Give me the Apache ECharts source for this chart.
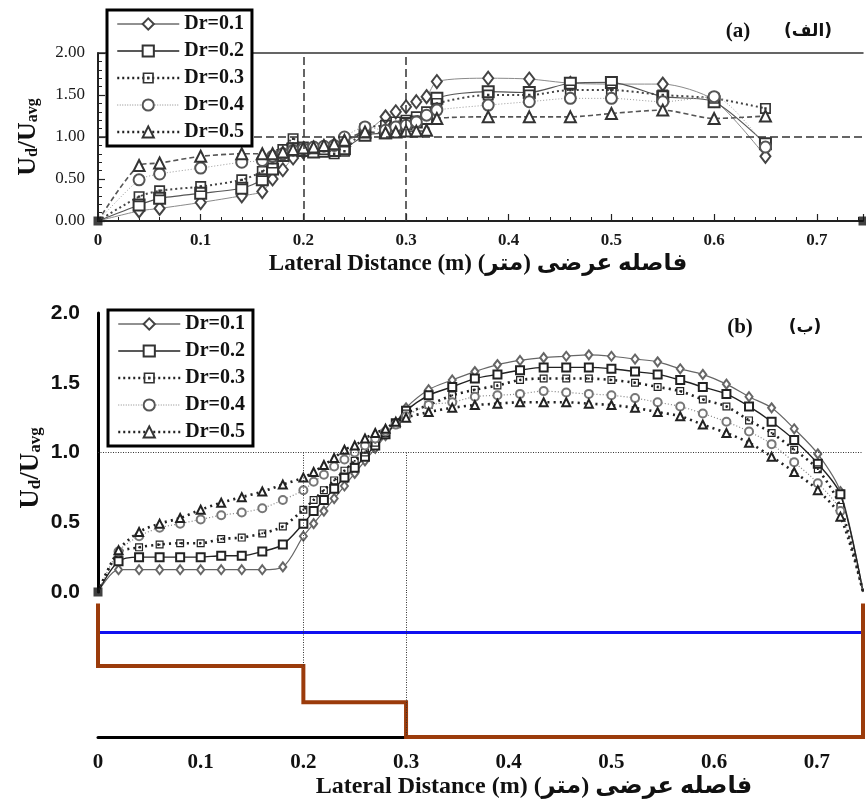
<!DOCTYPE html>
<html>
<head>
<meta charset="utf-8">
<title>Ud/Uavg - lateral distance</title>
<script src="https://cdn.jsdelivr.net/npm/echarts@6/dist/echarts.min.js"></script>
<style>
  html, body { margin: 0; padding: 0; background: #fff; }
  #chart { width: 866px; height: 805px; }
</style>
</head>
<body>
<div id="chart"></div>
<script>
// ---- data ----
var seriesNames = ['Dr=0.1', 'Dr=0.2', 'Dr=0.3', 'Dr=0.4', 'Dr=0.5'];

// panel (a): measured points
var xA = [0, 0.04, 0.06, 0.10, 0.14, 0.16, 0.17, 0.18, 0.19, 0.20, 0.21, 0.22, 0.23, 0.24, 0.26,
          0.28, 0.29, 0.30, 0.31, 0.32, 0.33, 0.38, 0.42, 0.46, 0.50, 0.55, 0.60, 0.65];
var a01 = [0, 0.12, 0.15, 0.22, 0.30, 0.35, 0.50, 0.61, 0.75, 0.82, 0.85, 0.86, 0.89, 0.95, 1.05,
           1.24, 1.30, 1.36, 1.42, 1.48, 1.66, 1.70, 1.69, 1.64, 1.63, 1.63, 1.44, 0.77];
var a02 = [0, 0.19, 0.27, 0.33, 0.39, 0.49, 0.62, 0.78, 0.86, 0.84, 0.82, 0.83, 0.84, 0.86, 1.02,
           1.05, 1.10, 1.16, 1.18, 1.22, 1.46, 1.54, 1.53, 1.64, 1.65, 1.48, 1.42, 0.92];
var a03 = [0, 0.29, 0.36, 0.41, 0.49, 0.59, 0.69, 0.85, 0.98, 0.88, 0.86, 0.85, 0.80, 0.83, 1.10,
           1.14, 1.18, 1.20, 1.24, 1.30, 1.40, 1.50, 1.50, 1.56, 1.56, 1.50, 1.46, 1.34];
var a04 = [0, 0.49, 0.56, 0.63, 0.70, 0.72, 0.77, 0.80, 0.84, 0.86, 0.88, 0.89, 0.90, 1.00, 1.12,
           1.08, 1.12, 1.14, 1.18, 1.26, 1.32, 1.38, 1.42, 1.46, 1.46, 1.42, 1.48, 0.88];
var a05 = [0, 0.66, 0.69, 0.77, 0.80, 0.80, 0.80, 0.82, 0.85, 0.87, 0.88, 0.90, 0.92, 0.96, 1.06,
           1.05, 1.06, 1.07, 1.07, 1.08, 1.22, 1.24, 1.24, 1.24, 1.28, 1.32, 1.22, 1.25];
// wall points of panel (a)
var wallX = [0, 0.745];
var wallY = [0, 0];

// panel (b): model
var xB = [0, 0.02, 0.04, 0.06, 0.08, 0.10, 0.12, 0.14, 0.16, 0.18, 0.20, 0.21, 0.22, 0.23, 0.24,
          0.25, 0.26, 0.27, 0.28, 0.29, 0.30, 0.322, 0.345, 0.367, 0.389, 0.411, 0.434, 0.456,
          0.478, 0.500, 0.523, 0.545, 0.567, 0.589, 0.612, 0.634, 0.656, 0.678, 0.701, 0.723, 0.745];
var b01 = [0, 0.16, 0.16, 0.16, 0.16, 0.16, 0.16, 0.16, 0.16, 0.18, 0.40, 0.49, 0.58, 0.67, 0.76,
           0.85, 0.94, 1.03, 1.12, 1.21, 1.32, 1.45, 1.52, 1.58, 1.63, 1.66, 1.68, 1.69, 1.70, 1.69,
           1.67, 1.65, 1.60, 1.56, 1.49, 1.40, 1.32, 1.17, 0.99, 0.72, 0];
var b02 = [0, 0.22, 0.25, 0.25, 0.25, 0.25, 0.26, 0.26, 0.29, 0.34, 0.49, 0.58, 0.66, 0.74, 0.82,
           0.89, 0.97, 1.05, 1.13, 1.21, 1.30, 1.41, 1.47, 1.53, 1.56, 1.59, 1.61, 1.61, 1.61, 1.60,
           1.58, 1.56, 1.52, 1.47, 1.42, 1.33, 1.22, 1.09, 0.92, 0.70, 0];
var b03 = [0, 0.28, 0.32, 0.34, 0.35, 0.35, 0.38, 0.39, 0.42, 0.47, 0.59, 0.66, 0.73, 0.80, 0.87,
           0.94, 1.00, 1.07, 1.14, 1.21, 1.28, 1.34, 1.41, 1.45, 1.48, 1.52, 1.53, 1.53, 1.53, 1.52,
           1.50, 1.47, 1.44, 1.38, 1.33, 1.23, 1.14, 1.02, 0.88, 0.61, 0];
var b04 = [0, 0.29, 0.40, 0.46, 0.49, 0.52, 0.55, 0.57, 0.60, 0.66, 0.73, 0.79, 0.84, 0.90, 0.95,
           1.00, 1.05, 1.10, 1.15, 1.20, 1.26, 1.34, 1.36, 1.40, 1.41, 1.42, 1.44, 1.43, 1.42, 1.41,
           1.39, 1.36, 1.33, 1.28, 1.22, 1.15, 1.06, 0.93, 0.78, 0.58, 0];
var b05 = [0, 0.30, 0.43, 0.49, 0.53, 0.59, 0.64, 0.68, 0.72, 0.77, 0.82, 0.86, 0.91, 0.96, 1.02,
           1.05, 1.10, 1.14, 1.17, 1.22, 1.25, 1.29, 1.32, 1.34, 1.35, 1.36, 1.36, 1.36, 1.35, 1.34,
           1.32, 1.29, 1.26, 1.20, 1.14, 1.07, 0.97, 0.86, 0.73, 0.54, 0];

// channel cross-section under panel (b) (relative elevation)
var sectionX = [0, 0, 0.2, 0.2, 0.3, 0.3, 0.745, 0.745];
var sectionZ = [0.92, 0.49, 0.49, 0.24, 0.24, 0, 0, 0.92];
var waterX = [0, 0.745];
var waterZ = [0.72, 0.72];

var dataA = [a01, a02, a03, a04, a05];
var dataB = [b01, b02, b03, b04, b05];

// ---- styles ----
var serif = '"Liberation Serif", "DejaVu Serif", serif';
var mixed = '"Liberation Serif", "DejaVu Sans", serif';
var dotSquare = 'path://M0,0H10V10H0Z M1.5,1.5V8.5H8.5V1.5Z M3.9,3.9H6.1V6.1H3.9Z';
var symbols = ['emptyDiamond', 'emptyRect', dotSquare, 'emptyCircle', 'emptyTriangle'];

var lineA = [
  { color: '#8a8a8a', width: 1, type: 'solid' },
  { color: '#555', width: 1.2, type: 'solid' },
  { color: '#444', width: 2, type: [2, 3] },
  { color: '#9a9a9a', width: 1, type: [1, 2] },
  { color: '#555', width: 1.6, type: [5, 3] }
];
var lineB = [
  { color: '#666', width: 1.2, type: 'solid' },
  { color: '#222', width: 1.4, type: 'solid' },
  { color: '#222', width: 2.6, type: [2, 4] },
  { color: '#888', width: 1.2, type: [1, 2] },
  { color: '#222', width: 2.6, type: [2, 4] }
];
var markColorA = ['#444', '#333', '#333', '#555', '#333'];
var markColorB = ['#666', '#222', '#222', '#777', '#222'];
var legendLines = [
  { color: '#222', width: 1, type: 'solid' },
  { color: '#222', width: 1.5, type: 'solid' },
  { color: '#222', width: 2.5, type: [2, 3] },
  { color: '#888', width: 1, type: [1, 1.5] },
  { color: '#222', width: 2.5, type: [2, 3] }
];

function pairs(xs, ys) {
  return xs.map(function (x, i) { return [x, ys[i]]; });
}

var series = [];

// panel (a)
dataA.forEach(function (ys, i) {
  series.push({
    name: seriesNames[i],
    type: 'line',
    xAxisIndex: 0,
    yAxisIndex: 0,
    data: pairs(xA, ys),
    smooth: 0.25,
    symbol: symbols[i],
    symbolSize: function (v, p) {
      if (p.dataIndex === 0) return 0;
      return i === 0 ? [10, 13] : 11;
    },
    itemStyle: { color: markColorA[i], borderWidth: 1 },
    lineStyle: lineA[i],
    z: 3
  });
});
series.push({
  name: 'wallA',
  type: 'scatter',
  xAxisIndex: 0,
  yAxisIndex: 0,
  data: pairs(wallX, wallY),
  symbol: 'rect',
  symbolSize: 9,
  itemStyle: { color: '#111' },
  z: 4,
  markLine: {
    silent: true,
    symbol: 'none',
    label: { show: false },
    lineStyle: { color: '#333', width: 1.5, type: [8, 4] },
    data: [{ xAxis: 0.2 }, { xAxis: 0.3 }, { yAxis: 1.0 }]
  }
});

// panel (b)
dataB.forEach(function (ys, i) {
  var last = ys.length - 1;
  series.push({
    name: seriesNames[i],
    type: 'line',
    xAxisIndex: 2,
    yAxisIndex: 1,
    data: pairs(xB, ys),
    smooth: 0.3,
    symbol: symbols[i],
    symbolSize: function (v, p) {
      if (p.dataIndex === 0 || p.dataIndex === last) return 0;
      return i === 0 ? [7, 9] : 8;
    },
    itemStyle: { color: markColorB[i], borderWidth: 1 },
    lineStyle: lineB[i],
    z: 3
  });
});
series.push({
  name: 'wallB',
  type: 'scatter',
  xAxisIndex: 2,
  yAxisIndex: 1,
  data: [[0, 0]],
  symbol: 'rect',
  symbolSize: 9,
  itemStyle: { color: '#111' },
  z: 4,
  markLine: {
    silent: true,
    symbol: 'none',
    label: { show: false },
    lineStyle: { color: '#333', width: 1, type: [1, 1.5] },
    data: [
      { yAxis: 1.0 },
      [{ coord: [0.2, 1.0] }, { coord: [0.2, 0] }],
      [{ coord: [0.3, 1.0] }, { coord: [0.3, 0] }]
    ]
  }
});

// cross-section
series.push({
  name: 'water',
  type: 'line',
  xAxisIndex: 3,
  yAxisIndex: 2,
  data: pairs(waterX, waterZ),
  symbol: 'none',
  lineStyle: { color: '#1010f0', width: 3 },
  z: 2
});
series.push({
  name: 'section',
  type: 'line',
  xAxisIndex: 3,
  yAxisIndex: 2,
  data: pairs(sectionX, sectionZ),
  symbol: 'none',
  clip: false,
  lineStyle: { color: '#9b3b0b', width: 4, join: 'miter' },
  z: 3,
  markLine: {
    silent: true,
    symbol: 'none',
    label: { show: false },
    lineStyle: { color: '#333', width: 1, type: [1, 1.5] },
    data: [
      [{ coord: [0.2, 1.0] }, { coord: [0.2, 0.49] }],
      [{ coord: [0.3, 1.0] }, { coord: [0.3, 0] }]
    ]
  }
});

var legendData = seriesNames.map(function (n, i) {
  return { name: n, lineStyle: legendLines[i] };
});
var legendBase = {
  orient: 'vertical',
  data: legendData,
  selectedMode: false,
  itemWidth: 62,
  itemHeight: 14,
  itemGap: 7,
  padding: [4, 8, 4, 9],
  borderColor: '#000',
  borderWidth: 3,
  borderRadius: 0,
  backgroundColor: '#fff',
  textStyle: { fontFamily: serif, fontWeight: 'bold', fontSize: 20, color: '#111' },
  z: 10
};

var tickFmt = function (v) { return v === 0 ? '0' : v.toFixed(1); };

var option = {
  backgroundColor: '#fff',
  animation: false,
  legend: [
    Object.assign({ left: 107, top: 10 }, legendBase),
    Object.assign({ left: 108, top: 310 }, legendBase)
  ],
  grid: [
    { left: 98, right: 3, top: 53, height: 168, outerBoundsMode: 'none' },
    { left: 98, right: 3, top: 313, height: 279, outerBoundsMode: 'none' },
    { left: 98, right: 3, top: 592, height: 145, outerBoundsMode: 'none' }
  ],
  xAxis: [
    {
      gridIndex: 0, type: 'value', min: 0, max: 0.745, interval: 0.1,
      axisLine: { lineStyle: { color: '#222', width: 2 } },
      axisTick: { inside: true, length: 7, lineStyle: { color: '#222', width: 1.2 } },
      minorTick: { show: true, splitNumber: 5, length: 4, lineStyle: { color: '#222', width: 1 } },
      splitLine: { show: false },
      axisLabel: { showMaxLabel: false, margin: 11, formatter: tickFmt,
        fontFamily: serif, fontWeight: 'bold', fontSize: 17, color: '#1a1a1a' }
    },
    {
      gridIndex: 0, type: 'value', position: 'top', min: 0, max: 0.745,
      axisLine: { lineStyle: { color: '#333', width: 1.5 } },
      axisTick: { show: false }, axisLabel: { show: false }, splitLine: { show: false }
    },
    {
      gridIndex: 1, type: 'value', min: 0, max: 0.745, show: false
    },
    {
      gridIndex: 2, type: 'value', min: 0, max: 0.745, interval: 0.1,
      axisLine: { lineStyle: { color: '#000', width: 3 } },
      axisTick: { show: false },
      splitLine: { show: false },
      axisLabel: { showMaxLabel: false, margin: 15, formatter: tickFmt,
        fontFamily: serif, fontWeight: 'bold', fontSize: 21, color: '#111' }
    }
  ],
  yAxis: [
    {
      gridIndex: 0, type: 'value', min: 0, max: 2, interval: 0.5,
      axisLine: { show: true, lineStyle: { color: '#222', width: 2 } },
      axisTick: { show: true, inside: true, length: 7, lineStyle: { color: '#222', width: 1.2 } },
      minorTick: { show: true, splitNumber: 5, length: 4, lineStyle: { color: '#222', width: 1 } },
      splitLine: { show: false },
      axisLabel: { margin: 13, formatter: function (v) { return v.toFixed(2); },
        fontFamily: serif, fontSize: 17, color: '#1a1a1a' }
    },
    {
      gridIndex: 1, type: 'value', min: 0, max: 2, interval: 0.5,
      axisLine: { show: true, lineStyle: { color: '#000', width: 3 } },
      axisTick: { show: false },
      splitLine: { show: false },
      axisLabel: { margin: 18, formatter: function (v) { return v.toFixed(1); },
        fontFamily: '"Liberation Sans", Arial, sans-serif', fontWeight: 'bold', fontSize: 21, color: '#111' }
    },
    {
      gridIndex: 2, type: 'value', min: 0, max: 1, show: false
    }
  ],
  graphic: [
    { type: 'text', x: 738, y: 32, z: 20,
      style: { text: '(a)', fontFamily: serif, fontWeight: 'bold', fontSize: 21, fill: '#111', align: 'center', verticalAlign: 'middle' } },
    { type: 'text', x: 808, y: 32, z: 20,
      style: { text: '(الف)', fontFamily: '"DejaVu Sans", sans-serif', fontWeight: 'bold', fontSize: 17, fill: '#111', align: 'center', verticalAlign: 'middle' } },
    { type: 'text', x: 740, y: 328, z: 20,
      style: { text: '(b)', fontFamily: serif, fontWeight: 'bold', fontSize: 21, fill: '#111', align: 'center', verticalAlign: 'middle' } },
    { type: 'text', x: 805, y: 328, z: 20,
      style: { text: '(ب)', fontFamily: '"DejaVu Sans", sans-serif', fontWeight: 'bold', fontSize: 17, fill: '#111', align: 'center', verticalAlign: 'middle' } },
    { type: 'text', x: 28, y: 137, rotation: Math.PI / 2, z: 20,
      style: {
        text: '{u|U}{s|d}{u|/U}{s|avg}', align: 'center', verticalAlign: 'middle',
        rich: {
          u: { fontFamily: serif, fontWeight: 'bold', fontSize: 26, fill: '#111' },
          s: { fontFamily: serif, fontWeight: 'bold', fontSize: 16, fill: '#111', verticalAlign: 'bottom', lineHeight: 14 }
        }
      } },
    { type: 'text', x: 31, y: 468, rotation: Math.PI / 2, z: 20,
      style: {
        text: '{u|U}{s|d}{u|/U}{s|avg}', align: 'center', verticalAlign: 'middle',
        rich: {
          u: { fontFamily: serif, fontWeight: 'bold', fontSize: 27, fill: '#111' },
          s: { fontFamily: serif, fontWeight: 'bold', fontSize: 17, fill: '#111', verticalAlign: 'bottom', lineHeight: 14 }
        }
      } },
    { type: 'text', x: 478, y: 264, z: 20,
      style: { text: 'Lateral Distance (m) \u202Bفاصله عرضی (متر)\u202C', fontFamily: mixed, fontWeight: 'bold', fontSize: 23,
        fill: '#111', align: 'center', verticalAlign: 'middle' } },
    { type: 'text', x: 534, y: 787, z: 20,
      style: { text: 'Lateral Distance (m) \u202Bفاصله عرضی (متر)\u202C', fontFamily: mixed, fontWeight: 'bold', fontSize: 24,
        fill: '#111', align: 'center', verticalAlign: 'middle' } }
  ],
  series: series
};

var chart = echarts.init(document.getElementById('chart'), null, { renderer: 'canvas' });
chart.setOption(option);
</script>
</body>
</html>
